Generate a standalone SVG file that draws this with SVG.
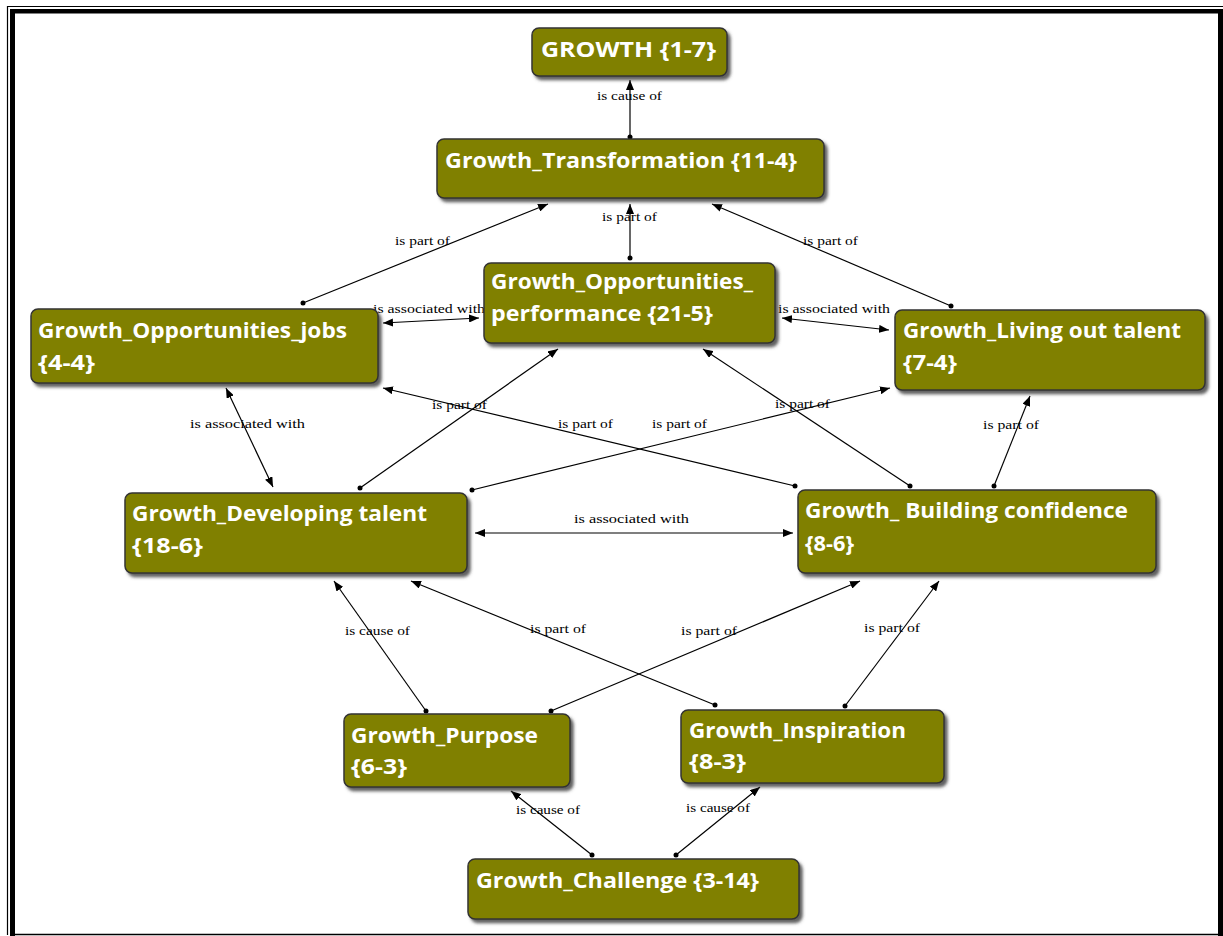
<svg xmlns="http://www.w3.org/2000/svg" width="1223" height="936" viewBox="0 0 1223 936">
  <style>
    .node rect.box { fill: #808000; stroke: #333333; stroke-width: 1.5; filter: url(#shadow); }
    .node text { font-family: "Open Sans", "Liberation Sans", sans-serif; font-weight: bold; font-size: 22px; fill: #ffffff; }
    .edge { stroke: #000000; stroke-width: 1.2; fill: none; }
    .lbl { font-family: "Liberation Serif", "DejaVu Serif", serif; font-size: 12px; fill: #000000; }
    .dot { fill: #000000; }
  </style>
  <defs>
    <filter id="shadow" x="-10%" y="-10%" width="130%" height="140%">
      <feDropShadow dx="3" dy="3.5" stdDeviation="1.5" flood-color="#444444" flood-opacity="0.85"/>
    </filter>
    <marker id="arr" viewBox="0 0 10 8" refX="10" refY="4" markerWidth="10" markerHeight="8" markerUnits="userSpaceOnUse" orient="auto-start-reverse">
      <path d="M0,0 L10,4 L0,8 Z" fill="#000000"/>
    </marker>
  </defs>

  <rect x="0" y="0" width="1223" height="936" fill="#ffffff"/>

  <!-- page frame -->
  <g id="frame">
    <path d="M7.5,935 L7.5,6.5 L1223,6.5" fill="none" stroke="#000" stroke-width="1.2"/>
    <rect x="10" y="9" width="1213" height="4.5" fill="#000"/>
    <rect x="10" y="9" width="5" height="927" fill="#000"/>
    <rect x="1218" y="9" width="5" height="927" fill="#000"/>
    <line x1="10" y1="934.5" x2="1223" y2="934.5" stroke="#000" stroke-width="1.5"/>
  </g>

  <!-- connectors -->
  <g id="connectors">
    <line class="edge" x1="630" y1="137" x2="630" y2="80" marker-end="url(#arr)"/>
    <line class="edge" x1="630" y1="258" x2="630" y2="204" marker-end="url(#arr)"/>
    <line class="edge" x1="303" y1="303" x2="548" y2="204" marker-end="url(#arr)"/>
    <line class="edge" x1="951" y1="306" x2="712" y2="204" marker-end="url(#arr)"/>
    <line class="edge" x1="383" y1="323" x2="479" y2="318" marker-start="url(#arr)" marker-end="url(#arr)"/>
    <line class="edge" x1="782" y1="318" x2="889" y2="330" marker-start="url(#arr)" marker-end="url(#arr)"/>
    <line class="edge" x1="226" y1="388" x2="273" y2="487" marker-start="url(#arr)" marker-end="url(#arr)"/>
    <line class="edge" x1="795" y1="486" x2="383" y2="388" marker-end="url(#arr)"/>
    <line class="edge" x1="360" y1="488" x2="558" y2="349" marker-end="url(#arr)"/>
    <line class="edge" x1="472" y1="490" x2="890" y2="388" marker-end="url(#arr)"/>
    <line class="edge" x1="910" y1="486" x2="703" y2="349" marker-end="url(#arr)"/>
    <line class="edge" x1="994" y1="486" x2="1030" y2="396" marker-end="url(#arr)"/>
    <line class="edge" x1="475" y1="533" x2="793" y2="533" marker-start="url(#arr)" marker-end="url(#arr)"/>
    <line class="edge" x1="426" y1="711" x2="334" y2="581" marker-end="url(#arr)"/>
    <line class="edge" x1="715" y1="705" x2="411" y2="581" marker-end="url(#arr)"/>
    <line class="edge" x1="551" y1="711" x2="860" y2="581" marker-end="url(#arr)"/>
    <line class="edge" x1="845" y1="706" x2="939" y2="581" marker-end="url(#arr)"/>
    <line class="edge" x1="592" y1="855" x2="511" y2="791" marker-end="url(#arr)"/>
    <line class="edge" x1="676" y1="855" x2="760" y2="787" marker-end="url(#arr)"/>

    <!-- source dots -->
    <circle class="dot" cx="630" cy="137" r="2.5"/>
    <circle class="dot" cx="630" cy="258" r="2.5"/>
    <circle class="dot" cx="303" cy="303" r="2.5"/>
    <circle class="dot" cx="951" cy="306" r="2.5"/>
    <circle class="dot" cx="795" cy="486" r="2.5"/>
    <circle class="dot" cx="360" cy="488" r="2.5"/>
    <circle class="dot" cx="472" cy="490" r="2.5"/>
    <circle class="dot" cx="910" cy="486" r="2.5"/>
    <circle class="dot" cx="994" cy="486" r="2.5"/>
    <circle class="dot" cx="426" cy="711" r="2.5"/>
    <circle class="dot" cx="715" cy="705" r="2.5"/>
    <circle class="dot" cx="551" cy="711" r="2.5"/>
    <circle class="dot" cx="845" cy="706" r="2.5"/>
    <circle class="dot" cx="592" cy="855" r="2.5"/>
    <circle class="dot" cx="676" cy="855" r="2.5"/>

    <!-- connector labels -->
    <text class="lbl" x="597" y="100" textLength="65" lengthAdjust="spacingAndGlyphs">is cause of</text>
    <text class="lbl" x="602" y="221" textLength="55" lengthAdjust="spacingAndGlyphs">is part of</text>
    <text class="lbl" x="395" y="245" textLength="55" lengthAdjust="spacingAndGlyphs">is part of</text>
    <text class="lbl" x="803" y="245" textLength="55" lengthAdjust="spacingAndGlyphs">is part of</text>
    <text class="lbl" x="373" y="313" textLength="112" lengthAdjust="spacingAndGlyphs">is associated with</text>
    <text class="lbl" x="778" y="313" textLength="112" lengthAdjust="spacingAndGlyphs">is associated with</text>
    <text class="lbl" x="190" y="428" textLength="115" lengthAdjust="spacingAndGlyphs">is associated with</text>
    <text class="lbl" x="432" y="409" textLength="55" lengthAdjust="spacingAndGlyphs">is part of</text>
    <text class="lbl" x="558" y="428" textLength="55" lengthAdjust="spacingAndGlyphs">is part of</text>
    <text class="lbl" x="652" y="428" textLength="55" lengthAdjust="spacingAndGlyphs">is part of</text>
    <text class="lbl" x="775" y="408" textLength="55" lengthAdjust="spacingAndGlyphs">is part of</text>
    <text class="lbl" x="983" y="429" textLength="56" lengthAdjust="spacingAndGlyphs">is part of</text>
    <text class="lbl" x="574" y="523" textLength="115" lengthAdjust="spacingAndGlyphs">is associated with</text>
    <text class="lbl" x="345" y="635" textLength="65" lengthAdjust="spacingAndGlyphs">is cause of</text>
    <text class="lbl" x="530" y="633" textLength="56" lengthAdjust="spacingAndGlyphs">is part of</text>
    <text class="lbl" x="681" y="635" textLength="56" lengthAdjust="spacingAndGlyphs">is part of</text>
    <text class="lbl" x="864" y="632" textLength="56" lengthAdjust="spacingAndGlyphs">is part of</text>
    <text class="lbl" x="516" y="814" textLength="64" lengthAdjust="spacingAndGlyphs">is cause of</text>
    <text class="lbl" x="686" y="812" textLength="64" lengthAdjust="spacingAndGlyphs">is cause of</text>
  </g>

  <!-- nodes -->
  <g id="n-growth" class="node">
    <rect class="box" x="532" y="28" width="195" height="48" rx="7"/>
    <text x="541" y="57" textLength="175" lengthAdjust="spacingAndGlyphs">GROWTH {1-7}</text>
  </g>
  <g id="n-transformation" class="node">
    <rect class="box" x="437" y="139" width="387" height="59" rx="7"/>
    <text x="445" y="168" textLength="352" lengthAdjust="spacingAndGlyphs">Growth_Transformation {11-4}</text>
  </g>
  <g id="n-opp-performance" class="node">
    <rect class="box" x="484" y="263" width="291" height="80" rx="7"/>
    <text x="491" y="289" textLength="262" lengthAdjust="spacingAndGlyphs">Growth_Opportunities_</text>
    <text x="491" y="321" textLength="222" lengthAdjust="spacingAndGlyphs">performance {21-5}</text>
  </g>
  <g id="n-opp-jobs" class="node">
    <rect class="box" x="31" y="309" width="347" height="74" rx="7"/>
    <text x="38" y="338" textLength="309" lengthAdjust="spacingAndGlyphs">Growth_Opportunities_jobs</text>
    <text x="38" y="370" textLength="57" lengthAdjust="spacingAndGlyphs">{4-4}</text>
  </g>
  <g id="n-living-talent" class="node">
    <rect class="box" x="895" y="310" width="310" height="80" rx="7"/>
    <text x="903" y="338" textLength="278" lengthAdjust="spacingAndGlyphs">Growth_Living out talent</text>
    <text x="903" y="370" textLength="54" lengthAdjust="spacingAndGlyphs">{7-4}</text>
  </g>
  <g id="n-developing-talent" class="node">
    <rect class="box" x="125" y="493" width="342" height="80" rx="7"/>
    <text x="132" y="521" textLength="295" lengthAdjust="spacingAndGlyphs">Growth_Developing talent</text>
    <text x="132" y="553" textLength="71" lengthAdjust="spacingAndGlyphs">{18-6}</text>
  </g>
  <g id="n-building-confidence" class="node">
    <rect class="box" x="798" y="490" width="358" height="83" rx="7"/>
    <text x="805" y="518" textLength="323" lengthAdjust="spacingAndGlyphs">Growth_ Building confidence</text>
    <text x="805" y="551" textLength="49" lengthAdjust="spacingAndGlyphs">{8-6}</text>
  </g>
  <g id="n-purpose" class="node">
    <rect class="box" x="344" y="714" width="226" height="73" rx="7"/>
    <text x="351" y="743" textLength="187" lengthAdjust="spacingAndGlyphs">Growth_Purpose</text>
    <text x="351" y="774" textLength="56" lengthAdjust="spacingAndGlyphs">{6-3}</text>
  </g>
  <g id="n-inspiration" class="node">
    <rect class="box" x="681" y="710" width="263" height="73" rx="7"/>
    <text x="689" y="738" textLength="217" lengthAdjust="spacingAndGlyphs">Growth_Inspiration</text>
    <text x="689" y="769" textLength="57" lengthAdjust="spacingAndGlyphs">{8-3}</text>
  </g>
  <g id="n-challenge" class="node">
    <rect class="box" x="468" y="859" width="331" height="60" rx="7"/>
    <text x="476" y="888" textLength="283" lengthAdjust="spacingAndGlyphs">Growth_Challenge {3-14}</text>
  </g>
</svg>
